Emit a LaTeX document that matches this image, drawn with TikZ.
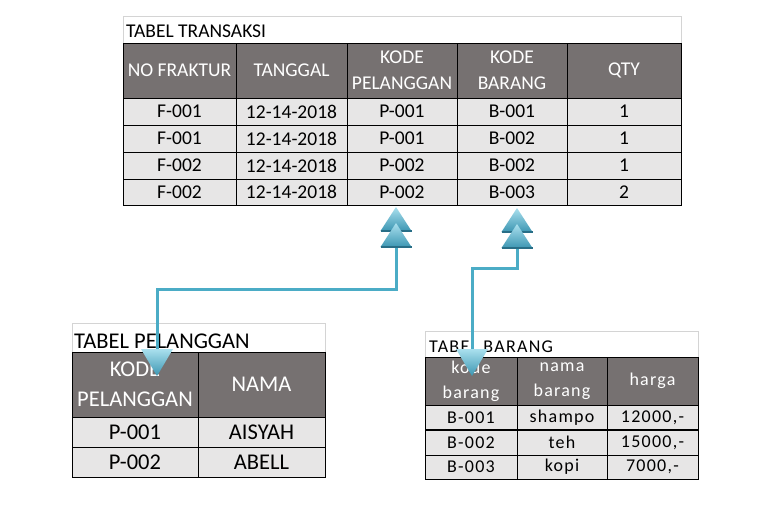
\documentclass[tikz,border=0pt]{standalone}
\usepackage{fontspec}
\setmainfont{Carlito}
\newfontfamily\widefont[LetterSpace=7]{Carlito}
\definecolor{hdr}{RGB}{118,113,113}
\definecolor{dat}{RGB}{231,230,230}
\definecolor{ttl}{RGB}{212,212,212}
\definecolor{connc}{RGB}{75,172,198}
\definecolor{arrlight}{RGB}{170,224,238}
\definecolor{arrdark}{RGB}{60,150,178}
\definecolor{arredge}{RGB}{40,110,135}
\newcommand\mycell[7]{\node[#2,anchor=north west,minimum width=#5pt,minimum height=#6pt] (#1) at (#3,#4) {#7};}
\tikzset{
  cellbase/.style={inner sep=0pt, outer sep=0pt, line width=1pt, draw=black},
  hcell/.style={cellbase, fill=hdr, text=white, align=center},
  dcell/.style={cellbase, fill=dat},
  tbox/.style={draw=ttl, line width=0.8pt, fill=white, inner sep=0pt, outer sep=0pt},
  fsT/.style={font=\fontsize{19.5}{26}\selectfont},
  fsP/.style={font=\fontsize{22.5}{30}\selectfont},
  fsB/.style={font=\widefont\fontsize{18}{25}\selectfont},
  connline/.style={draw=connc, line width=3pt},
  updouble/.pic={
    \shade[top color=arrlight, bottom color=arrdark] (-15.5,24) -- (0,0) -- (15.5,24) -- cycle;
    \draw[arredge, line width=1.5pt] (-15.5,24) -- (15.5,24);
    \shade[top color=arrlight, bottom color=arrdark] (-15.5,40) -- (0,16) -- (15.5,40) -- cycle;
    \draw[arredge, line width=1.5pt] (-15.5,40) -- (15.5,40);
  },
  downtri/.pic={
    \shade[top color=arrlight, bottom color=arrdark] (-16,0) -- (16,0) -- (0,27) -- cycle;
  }
}
\begin{document}
\begin{tikzpicture}[x=1pt,y=-1pt]
\useasboundingbox (0,0) rectangle (766,512);
\fill[white] (0,0) rectangle (766,512);
% ---------- TABEL TRANSAKSI ----------
\node[tbox,anchor=north west,minimum width=558pt,minimum height=27pt] (tbox) at (123,16) {};
\node[fsT,anchor=base west,inner sep=0pt] (ttitle) at (126,37) {TABEL TRANSAKSI};
\mycell{th1}{hcell,fsT}{123}{43}{113}{55}{NO FRAKTUR}
\mycell{th2}{hcell,fsT}{236}{43}{111}{55}{TANGGAL}
\mycell{th3}{hcell,fsT}{347}{43}{110}{55}{KODE\\PELANGGAN}
\mycell{th4}{hcell,fsT}{457}{43}{110}{55}{KODE\\BARANG}
\mycell{th5}{hcell,fsT}{567}{43}{114}{55}{QTY}
\mycell{t1a}{dcell,fsT}{123}{98}{113}{27}{F-001}
\mycell{t1b}{dcell,fsT}{236}{98}{111}{27}{12-14-2018}
\mycell{t1c}{dcell,fsT}{347}{98}{110}{27}{P-001}
\mycell{t1d}{dcell,fsT}{457}{98}{110}{27}{B-001}
\mycell{t1e}{dcell,fsT}{567}{98}{114}{27}{1}
\mycell{t2a}{dcell,fsT}{123}{125}{113}{27}{F-001}
\mycell{t2b}{dcell,fsT}{236}{125}{111}{27}{12-14-2018}
\mycell{t2c}{dcell,fsT}{347}{125}{110}{27}{P-001}
\mycell{t2d}{dcell,fsT}{457}{125}{110}{27}{B-002}
\mycell{t2e}{dcell,fsT}{567}{125}{114}{27}{1}
\mycell{t3a}{dcell,fsT}{123}{152}{113}{27}{F-002}
\mycell{t3b}{dcell,fsT}{236}{152}{111}{27}{12-14-2018}
\mycell{t3c}{dcell,fsT}{347}{152}{110}{27}{P-002}
\mycell{t3d}{dcell,fsT}{457}{152}{110}{27}{B-002}
\mycell{t3e}{dcell,fsT}{567}{152}{114}{27}{1}
\mycell{t4a}{dcell,fsT}{123}{179}{113}{26}{F-002}
\mycell{t4b}{dcell,fsT}{236}{179}{111}{26}{12-14-2018}
\mycell{t4c}{dcell,fsT}{347}{179}{110}{26}{P-002}
\mycell{t4d}{dcell,fsT}{457}{179}{110}{26}{B-003}
\mycell{t4e}{dcell,fsT}{567}{179}{114}{26}{2}
% ---------- TABEL PELANGGAN ----------
\node[tbox,anchor=north west,minimum width=253pt,minimum height=29pt] (pbox) at (72,323) {};
\node[fsP,anchor=base west,inner sep=0pt] (ptitle) at (74,348) {TABEL PELANGGAN};
\mycell{ph1}{hcell,fsP}{72}{352}{126}{65}{KODE\\PELANGGAN}
\mycell{ph2}{hcell,fsP}{198}{352}{127}{65}{NAMA}
\mycell{p1a}{dcell,fsP}{72}{417}{126}{30}{P-001}
\mycell{p1b}{dcell,fsP}{198}{417}{127}{30}{AISYAH}
\mycell{p2a}{dcell,fsP}{72}{447}{126}{30}{P-002}
\mycell{p2b}{dcell,fsP}{198}{447}{127}{30}{ABELL}
% ---------- TABEL BARANG ----------
\node[tbox,anchor=north west,minimum width=273pt,minimum height=26pt] (bbox) at (425,331) {};
\node[fsB,anchor=base west,inner sep=0pt] (btitle) at (429,352) {TABEL BARANG};
\mycell{bh1}{hcell,fsB}{425}{357}{92}{48}{kode\\barang}
\mycell{bh2}{hcell,fsB}{517}{357}{90}{48}{nama\\barang}
\mycell{bh3}{hcell,fsB}{607}{357}{91}{48}{harga}
\mycell{b1a}{dcell,fsB}{425}{405}{92}{25}{B-001}
\mycell{b1b}{dcell,fsB}{517}{405}{90}{25}{shampo}
\mycell{b1c}{dcell,fsB}{607}{405}{91}{25}{12000,-}
\mycell{b2a}{dcell,fsB}{425}{430}{92}{25}{B-002}
\mycell{b2b}{dcell,fsB}{517}{430}{90}{25}{teh}
\mycell{b2c}{dcell,fsB}{607}{430}{91}{25}{15000,-}
\mycell{b3a}{dcell,fsB}{425}{455}{92}{24}{B-003}
\mycell{b3b}{dcell,fsB}{517}{455}{90}{24}{kopi}
\mycell{b3c}{dcell,fsB}{607}{455}{91}{24}{7000,-}
\draw[line width=1.8pt] (b2a.north west) -- (b2c.north east);
% ---------- connectors ----------
\coordinate (ua) at (396,246);
\coordinate (da) at (157,351);
\coordinate (ub) at (517,246);
\coordinate (db) at (472,351);
\draw[connline] (ua) -- ++(0,43) -| (da);
\draw[connline] (ub) -- ++(0,22) -| (db);
\pic at (396,207) {updouble};
\pic at (517,208) {updouble};
\pic at (157,349) {downtri};
\pic at (472,349) {downtri};
\end{tikzpicture}
\end{document}
